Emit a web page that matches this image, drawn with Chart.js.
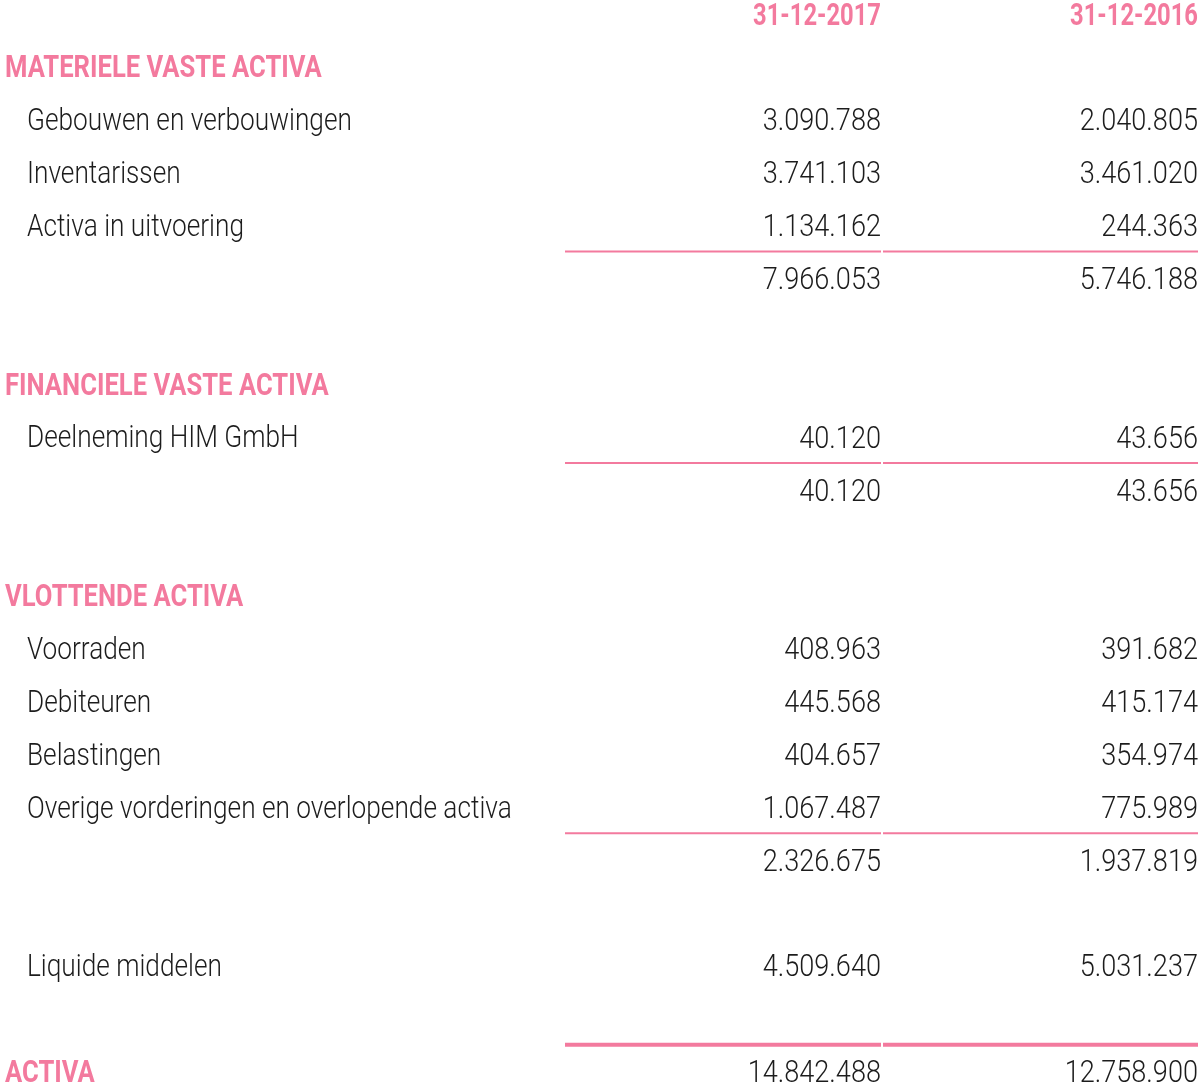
<!DOCTYPE html>
<html>
<head>
<meta charset="utf-8">
<script src="https://cdn.jsdelivr.net/npm/chart.js@4/dist/chart.umd.min.js"></script>
<style>
html,body{margin:0;padding:0;background:#fff;}
#wrap{width:1200px;height:1085px;}
</style>
</head>
<body>
<div id="wrap"><canvas id="c" width="1200" height="1085"></canvas></div>
<script>
// ---- data ----
const columnHeaders = ['31-12-2017', '31-12-2016'];
const sectionTitles = ['MATERIELE VASTE ACTIVA', 'FINANCIELE VASTE ACTIVA', 'VLOTTENDE ACTIVA'];

const materieleLabels = ['Gebouwen en verbouwingen', 'Inventarissen', 'Activa in uitvoering'];
const materiele2017 = [3090788, 3741103, 1134162];
const materiele2016 = [2040805, 3461020, 244363];
const materieleTotal = [7966053, 5746188];

const financieleLabels = ['Deelneming HIM GmbH'];
const financiele2017 = [40120];
const financiele2016 = [43656];
const financieleTotal = [40120, 43656];

const vlottendeLabels = ['Voorraden', 'Debiteuren', 'Belastingen', 'Overige vorderingen en overlopende activa'];
const vlottende2017 = [408963, 445568, 404657, 1067487];
const vlottende2016 = [391682, 415174, 354974, 775989];
const vlottendeTotal = [2326675, 1937819];

const liquideLabel = 'Liquide middelen';
const liquide = [4509640, 5031237];

const grandTotalLabel = 'ACTIVA';
const grandTotal = [14842488, 12758900];

// ---- build rows (row index = position on y scale) ----
const rows = [];
rows.push({type: 'head'});
function addSection(title, labels, a, b, total) {
  rows.push({type: 'section', text: title});
  labels.forEach((l, i) => rows.push({type: 'item', text: l, a: a[i], b: b[i]}));
  rows.push({type: 'total', a: total[0], b: total[1], rule: 'thin'});
}
addSection(sectionTitles[0], materieleLabels, materiele2017, materiele2016, materieleTotal);
rows.push({type: 'blank'});
addSection(sectionTitles[1], financieleLabels, financiele2017, financiele2016, financieleTotal);
rows.push({type: 'blank'});
addSection(sectionTitles[2], vlottendeLabels, vlottende2017, vlottende2016, vlottendeTotal);
rows.push({type: 'blank'});
rows.push({type: 'item', text: liquideLabel, a: liquide[0], b: liquide[1]});
rows.push({type: 'blank'});
rows.push({type: 'grand', text: grandTotalLabel, a: grandTotal[0], b: grandTotal[1], rule: 'thick'});

// ---- layout / style ----
const PINK = '#f37a9e';
const INK = '#1c1c1c';
const FONT = 'Roboto, "DejaVu Sans", sans-serif';
const colLeftEdges = [565, 883];
const colRightEdges = [881, 1198];
const sectionX = 5;
const itemX = 27;

const styles = {
  colHead: {font: 'bold 30.5px ' + FONT, color: PINK, cap: 22, sx: 0.78},
  section: {font: 'bold 30.5px ' + FONT, color: PINK, cap: 21.7, sx: 0.84},
  label:   {font: '300 30.5px ' + FONT, color: INK, cap: 21.7, sx: 0.86},
  number:  {font: '300 31px ' + FONT, color: INK, cap: 22.3, sx: 0.875}
};

function fmt(n) { return String(n).replace(/\B(?=(\d{3})+(?!\d))/g, '.'); }

// rule lines as line datasets, positioned via row index on the y scale
const ruleDatasets = [];
rows.forEach((r, i) => {
  if (!r.rule) return;
  for (let c = 0; c < 2; c++) {
    ruleDatasets.push({
      data: [{x: colLeftEdges[c], y: i - 0.5}, {x: colRightEdges[c], y: i - 0.5}],
      showLine: true,
      borderColor: PINK,
      borderWidth: r.rule === 'thick' ? 4 : 2,
      pointRadius: 0,
      borderCapStyle: 'butt'
    });
  }
});

const tablePlugin = {
  id: 'tableText',
  afterDatasetsDraw(chart) {
    const ctx = chart.ctx;
    const ys = chart.scales.y, xs = chart.scales.x;
    const put = (text, x, y, align, st) => {
      ctx.save();
      ctx.font = st.font;
      ctx.fillStyle = st.color;
      ctx.textAlign = align;
      ctx.textBaseline = 'alphabetic';
      ctx.translate(x, y + st.cap / 2);
      ctx.scale(st.sx, 1);
      ctx.fillText(text, 0, 0);
      ctx.restore();
    };
    rows.forEach((r, i) => {
      const y = ys.getPixelForValue(i);
      if (r.type === 'head') {
        columnHeaders.forEach((h, c) => put(h, xs.getPixelForValue(colRightEdges[c]), y, 'right', styles.colHead));
      } else if (r.type === 'section' || r.type === 'grand') {
        put(r.text, xs.getPixelForValue(sectionX), y, 'left', styles.section);
      } else if (r.type === 'item') {
        put(r.text, xs.getPixelForValue(itemX), y, 'left', styles.label);
      }
      if (r.a !== undefined) {
        put(fmt(r.a), xs.getPixelForValue(colRightEdges[0]), y, 'right', styles.number);
        put(fmt(r.b), xs.getPixelForValue(colRightEdges[1]), y, 'right', styles.number);
      }
    });
  }
};

const ROW0 = 13.5, ROWH = 52.88, H = 1085;
new Chart(document.getElementById('c'), {
  type: 'scatter',
  data: {datasets: ruleDatasets},
  options: {
    responsive: false,
    animation: false,
    devicePixelRatio: 1,
    layout: {padding: 0},
    plugins: {legend: {display: false}, tooltip: {enabled: false}},
    scales: {
      x: {type: 'linear', min: 0, max: 1200, display: false},
      y: {type: 'linear', reverse: true, min: -ROW0 / ROWH, max: (H - ROW0) / ROWH, display: false}
    }
  },
  plugins: [tablePlugin]
});
</script>
</body>
</html>
